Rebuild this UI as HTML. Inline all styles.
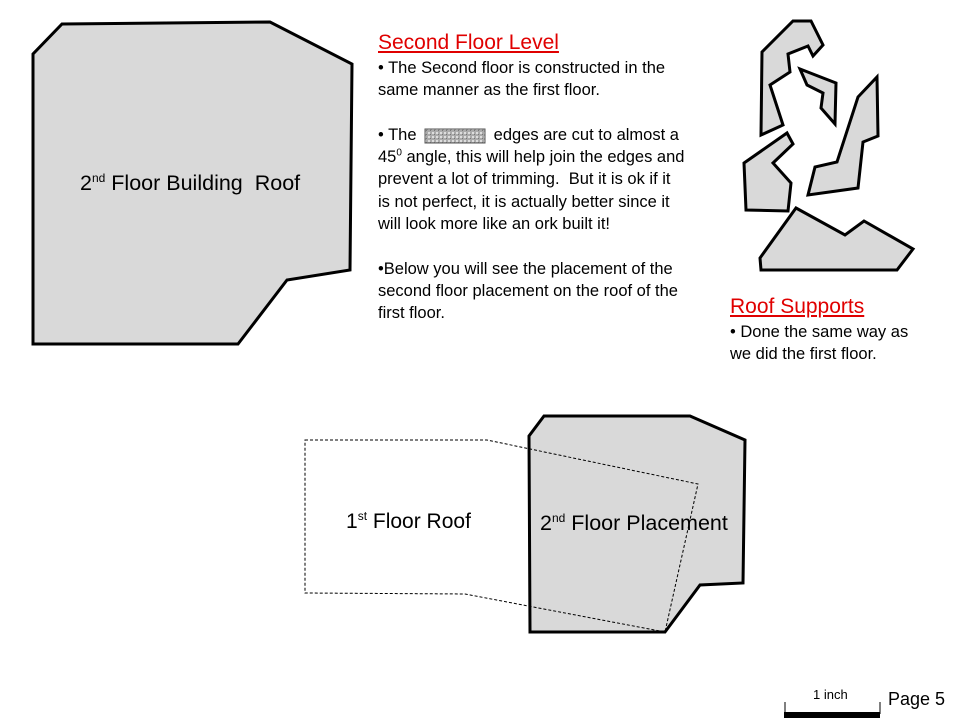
<!DOCTYPE html>
<html><head><meta charset="utf-8"><style>
body{margin:0;background:#fff;}
#c{position:relative;width:960px;height:720px;overflow:hidden;font-family:"Liberation Sans",sans-serif;}
.t{position:absolute;color:#000;white-space:nowrap;}
.h{color:#e00000;text-decoration:underline;font-size:21px;}
.p{font-size:16.5px;line-height:22.3px;}
</style></head><body><div id="c">
<svg width="960" height="720" style="position:absolute;left:0;top:0">
<defs><pattern id="sp" width="4" height="4" patternUnits="userSpaceOnUse"><rect width="4" height="4" fill="#aaa"/><rect width="2" height="2" fill="#ddd"/><rect x="2" y="2" width="1" height="1" fill="#777"/></pattern></defs>
<g fill="#d9d9d9" stroke="#000" stroke-width="3" stroke-linejoin="miter">
<polygon points="62,24 270,22 352,64 350,270 287,280 238,344 33,344 33,54"/>
<polygon points="544,416 690,416 745,440 743,583 700,585 665,632 530,632 529,436"/>
<polygon points="793,21 811,21 823,45 813,56 808,46 788,54 790,72 770,85 783,125 761,135 762,52"/>
<polygon points="800,69 836,83 835,124 821,108 823,93 807,85"/>
<polygon points="877,77 878,136 863,142 858,188 808,195 815,167 837,162 858,97"/>
<polygon points="787,133 793,144 773,163 791,183 788,211 746,210 744,163"/>
<polygon points="796,208 845,235 864,221 913,249 897,270 761,270 760,258"/>
</g>
<polygon points="305,440 487,440 698,484 665,632 465,594 305,593" fill="none" stroke="#000" stroke-width="1" stroke-dasharray="3,2"/>
<rect x="425" y="129" width="60" height="14" fill="url(#sp)" stroke="#555" stroke-width="1"/>
<rect x="784" y="712" width="96" height="6" fill="#000"/>
<line x1="785" y1="702" x2="785" y2="714" stroke="#000" stroke-width="1"/>
<line x1="880" y1="702" x2="880" y2="714" stroke="#000" stroke-width="1"/>
</svg>
<div class="t" style="left:80px;top:171px;font-size:21.5px">2<sup style="font-size:12px">nd</sup> Floor Building&nbsp; Roof</div>
<div class="t" style="left:346px;top:509px;font-size:21px">1<sup style="font-size:12px">st</sup> Floor Roof</div>
<div class="t" style="left:540px;top:511px;font-size:21.5px">2<sup style="font-size:12px">nd</sup> Floor Placement</div>
<div class="t h" style="left:378px;top:31px">Second Floor Level</div>
<div class="t p" style="left:378px;top:57px">• The Second floor is constructed in the<br>same manner as the first floor.<br><br>• The <span style="display:inline-block;width:68px"></span> edges are cut to almost a<br>45<sup style="font-size:10px;line-height:0">0</sup> angle, this will help join the edges and<br>prevent a lot of trimming.&nbsp; But it is ok if it<br>is not perfect, it is actually better since it<br>will look more like an ork built it!<br><br>•Below you will see the placement of the<br>second floor placement on the roof of the<br>first floor.</div>
<div class="t h" style="left:730px;top:295px">Roof Supports</div>
<div class="t p" style="left:730px;top:321px">• Done the same way as<br>we did the first floor.</div>
<div class="t" style="left:813px;top:687px;font-size:13px">1 inch</div>
<div class="t" style="left:888px;top:689px;font-size:18px">Page 5</div>
</div></body></html>
